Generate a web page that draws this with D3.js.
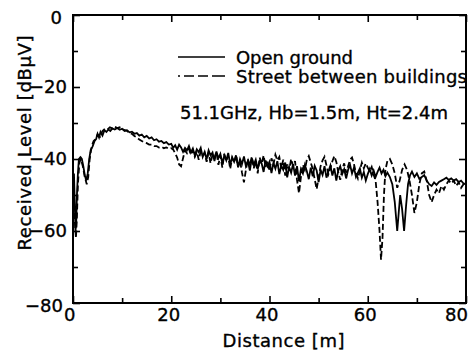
<!DOCTYPE html>
<html>
<head>
<meta charset="utf-8">
<script src="https://cdn.jsdelivr.net/npm/d3@7"></script>
<style>
  body { margin: 0; background: #fff; }
  text { font-family: "DejaVu Sans", "Liberation Sans", sans-serif; fill: #000; stroke: #000; stroke-width: 0.35px; }
</style>
</head>
<body>
<div id="chart"></div>
<script>
var margin = {top: 15, right: 7, bottom: 48, left: 73};
var width = 473 - margin.left - margin.right,
    height = 351 - margin.top - margin.bottom;

// distance [m] and received level [dBuV], open ground (solid)
const openDist = [0.2, 0.35, 0.5, 0.65, 0.8, 1.0, 1.2, 1.5, 1.8, 2.1, 2.4, 2.7, 3.0, 3.3, 3.6, 4.0, 4.4, 4.7, 5.0, 5.3, 5.6, 6.0, 6.4, 6.8, 7.2, 7.6, 8.0, 8.5, 9.0, 9.5,
  10, 10.5, 11, 11.5, 12, 12.5, 13, 13.5, 14, 14.5, 15, 15.5, 16, 16.5, 17, 17.5, 18, 18.5, 19, 19.5,
  20.0, 20.4, 20.8, 21.2, 21.6, 22.0, 22.4, 22.8, 23.2, 23.6, 24.0, 24.4, 24.8, 25.2, 25.6, 26.0, 26.4, 26.8, 27.2, 27.6,
  28.0, 28.4, 28.8, 29.2, 29.6, 30.0, 30.4, 30.8, 31.2, 31.6, 32.0, 32.4, 32.8, 33.2, 33.6, 34.0, 34.4, 34.8, 35.2, 35.6,
  36.0, 36.4, 36.8, 37.2, 37.6, 38.0, 38.4, 38.8, 39.2, 39.6, 40.0, 40.4, 40.8, 41.2, 41.6, 42.0, 42.4, 42.8, 43.2, 43.6,
  44.0, 44.4, 44.8, 45.2, 45.6, 46.0, 46.4, 46.8, 47.2, 47.6, 48.0, 48.4, 48.8, 49.2, 49.6, 50.0, 50.4, 50.8, 51.2, 51.6,
  52.0, 52.4, 52.8, 53.2, 53.6, 54.0, 54.4, 54.8, 55.2, 55.6, 56.0, 56.4, 56.8, 57.2, 57.6, 58.0, 58.4, 58.8, 59.2, 59.6,
  60.0, 60.4, 60.8, 61.2, 61.6, 62.0, 62.4, 62.8, 63.2, 63.6, 64.0, 64.5, 65, 65.5, 66, 66.3, 66.6, 67, 67.4, 67.8, 68.2, 68.6,
  69, 69.5, 70, 70.5, 71, 71.5, 72, 72.5, 73, 73.5, 74, 74.5, 75, 75.5, 76, 76.5, 77, 77.5, 78, 78.5, 79, 79.5, 80];
const openLevel = [-44, -52, -60, -58, -50, -44, -40, -39.5, -40, -42, -44.5, -46, -44, -40, -37.5, -36.5, -35, -34.5, -33, -34, -32.5, -33.5, -32, -32.5, -31.8, -32.2, -31.5, -31.8, -31.4, -31.9,
  -31.6, -32.2, -32, -32.6, -32.4, -33, -32.8, -33.5, -33.2, -34, -33.6, -34.3, -34, -34.8, -34.5, -35.2, -35, -35.6, -35.3, -36,
  -35.8, -36.9, -36.2, -37.4, -36.0, -36.8, -38.0, -36.9, -37.6, -36.4, -38.2, -37.1, -39.0, -37.3, -38.1, -36.9, -39.4, -38.0, -40.1, -37.6,
  -39.0, -38.2, -40.6, -37.9, -39.8, -38.6, -41.2, -39.0, -40.4, -38.3, -41.5, -39.6, -40.8, -39.1, -42.3, -40.0, -41.4, -39.3, -42.0, -40.5,
  -43.2, -39.8, -41.6, -40.2, -42.8, -40.6, -41.2, -43.6, -40.4, -42.0, -40.8, -43.9, -41.1, -42.7, -40.6, -44.2, -41.8, -43.0, -41.0, -45.1,
  -42.2, -43.8, -41.4, -44.6, -42.0, -46.2, -42.8, -44.0, -41.6, -43.4, -45.6, -42.4, -44.8, -41.9, -43.2, -46.4, -43.0, -44.4, -42.0, -45.2,
  -43.4, -41.8, -44.6, -42.6, -46.0, -43.2, -42.0, -44.2, -42.8, -45.4, -43.0, -41.6, -44.0, -42.4, -45.0, -43.8, -42.6, -45.2, -43.6, -46.0,
  -44.2, -42.8, -44.6, -43.2, -45.0, -43.6, -42.4, -44.0, -43.0, -44.8, -43.8, -45, -47, -52, -60, -55, -50, -54, -60, -53, -47, -44.5,
  -43.5, -45, -44, -45.5, -45, -44.5, -46, -47, -47.5, -46.5, -47.2, -46.4, -46, -45.6, -45.2, -45.8, -45.4, -46, -45.6, -46.4, -46, -46.8, -47];

// street between buildings (dashed)
const streetDist = [0.2, 0.4, 0.6, 0.8, 1.0, 1.3, 1.6, 2.0, 2.4, 2.8, 3.1, 3.4, 3.8, 4.2, 4.6, 5.0, 5.5, 6.0, 6.5, 7, 7.5, 8, 8.5, 9, 9.5,
  10, 10.5, 11, 11.5, 12, 12.5, 13, 13.5, 14, 14.5, 15, 15.5, 16, 16.5, 17, 17.5, 18, 18.5, 19, 19.5,
  20.0, 20.4, 20.8, 21.2, 21.6, 22.0, 22.4, 22.8, 23.2, 23.6, 24.0, 24.4, 24.8, 25.2, 25.6, 26.0, 26.4, 26.8, 27.2, 27.6,
  28.0, 28.4, 28.8, 29.2, 29.6, 30.0, 30.4, 30.8, 31.2, 31.6, 32.0, 32.4, 32.8, 33.2, 33.6, 34.0, 34.4, 34.8, 35.2, 35.6,
  36.0, 36.4, 36.8, 37.2, 37.6, 38.0, 38.4, 38.8, 39.2, 39.6, 40.0, 40.4, 40.8, 41.2, 41.6, 42.0, 42.4, 42.8, 43.2, 43.6,
  44.0, 44.4, 44.8, 45.2, 45.6, 46.0, 46.4, 46.8, 47.2, 47.6, 48.0, 48.4, 48.8, 49.2, 49.6, 50.0, 50.4, 50.8, 51.2, 51.6,
  52.0, 52.4, 52.8, 53.2, 53.6, 54.0, 54.4, 54.8, 55.2, 55.6, 56.0, 56.4, 56.8, 57.2, 57.6, 58.0, 58.4, 58.8, 59.2, 59.6,
  60.0, 60.4, 60.8, 61.2, 61.6, 62.0, 62.4, 62.7, 63, 63.3, 63.6, 64, 64.5, 65, 65.5, 66, 66.5, 67, 67.5, 68, 68.5, 69, 69.5,
  70, 70.5, 71, 71.5, 72, 72.5, 73, 73.5, 74, 74.5, 75, 75.5, 76, 76.5, 77, 77.5, 78, 78.5, 79, 79.5, 80];
const streetLevel = [-50, -58, -62, -56, -47, -41, -40, -42, -45, -47, -45, -40, -36.5, -35, -34.5, -33.2, -33.8, -32.2, -31.6, -31.8, -31.2, -31.5, -31, -31.4, -31.2,
  -31.6, -32, -32.2, -32.8, -33.0, -33.6, -34.0, -34.6, -35.0, -35.4, -35.6, -36.0, -36.0, -36.4, -36.4, -36.8, -36.6, -37.0, -36.8, -37.2,
  -37.0, -37.4, -38.4, -39.6, -41.5, -42.0, -39.8, -37.6, -38.4, -37.2, -38.8, -37.6, -39.4, -38.0, -40.2, -37.8, -39.0, -38.4, -40.8, -38.2,
  -41.2, -38.8, -39.6, -38.0, -41.6, -39.0, -42.4, -38.6, -40.4, -39.2, -42.8, -39.6, -41.0, -38.8, -42.2, -40.4, -43.8, -46.5, -43.0, -40.0,
  -41.8, -39.4, -42.6, -40.6, -44.0, -39.6, -41.4, -39.0, -42.2, -40.6, -43.4, -39.8, -41.6, -38.8, -40.4, -39.4, -42.6, -40.2, -44.6, -41.4,
  -43.2, -40.0, -42.0, -40.6, -45.8, -49.5, -45.0, -41.6, -43.0, -40.2, -39.2, -41.0, -42.8, -45.6, -48.4, -45.2, -42.0, -40.4, -39.4, -41.8,
  -44.2, -42.6, -40.6, -39.2, -40.8, -43.6, -45.8, -43.0, -41.2, -43.8, -42.0, -40.2, -39.6, -41.4, -44.0, -45.4, -43.2, -41.0, -42.6, -41.2,
  -42.4, -43.4, -42.2, -44.4, -46.0, -52, -60, -68, -62, -50, -43, -40.5, -40, -41.5, -44, -48, -46, -43, -41.5, -43, -46, -50, -55,
  -52, -47, -44, -43.5, -46, -50, -52, -50, -48.5, -49.5, -47.5, -48.5, -47, -46, -46.8, -46, -47.5, -46.5, -48, -47, -46.5];

const xMajor = [0, 20, 40, 60, 80];
const xMinor = [10, 30, 50, 70];
const yMajor = [0, -20, -40, -60, -80];
const yMinor = [-10, -30, -50, -70];
const seriesNames = ["Open ground", "Street between buildings"];
const noteText = "51.1GHz, Hb=1.5m, Ht=2.4m";

const svg = d3.select('#chart')
  .append('svg')
  .attr("width", width + margin.left + margin.right)
  .attr("height", height + margin.top + margin.bottom)
  .append("g")
  .attr("transform", "translate(" + margin.left + "," + margin.top + ")");

const x = d3.scaleLinear().domain([0, 80]).range([0, width]);
const y = d3.scaleLinear().domain([-80, 0]).range([height, 0]);

const fmt = d => d < 0 ? "\u2212" + Math.abs(d) : "" + d;

// ticks, all pointing inward, on all four sides
function tickAxis(axisFn, scale, vals, size, tr) {
  const g = svg.append("g")
    .attr("transform", tr)
    .call(axisFn(scale).tickValues(vals).tickSize(size).tickFormat(""));
  g.select(".domain").remove();
  g.selectAll("line").attr("stroke", "#000").attr("stroke-width", 1.6);
  return g;
}
tickAxis(d3.axisBottom, x, xMajor, -7, `translate(0,${height})`);
tickAxis(d3.axisBottom, x, xMinor, -5, `translate(0,${height})`);
tickAxis(d3.axisTop, x, xMajor, -7, "translate(0,0)");
tickAxis(d3.axisTop, x, xMinor, -5, "translate(0,0)");
tickAxis(d3.axisLeft, y, yMajor, -7, "translate(0,0)");
tickAxis(d3.axisLeft, y, yMinor, -5, "translate(0,0)");
tickAxis(d3.axisRight, y, yMajor, -7, `translate(${width},0)`);
tickAxis(d3.axisRight, y, yMinor, -5, `translate(${width},0)`);

// frame
svg.append("rect")
  .attr("width", width)
  .attr("height", height)
  .attr("fill", "none")
  .attr("stroke", "#000")
  .attr("stroke-width", 2);

// tick labels
const xLab = svg.append("g")
  .attr("transform", `translate(0,${height})`)
  .call(d3.axisBottom(x).tickValues(xMajor).tickSize(0).tickPadding(5).tickFormat(fmt));
xLab.select(".domain").remove();
xLab.selectAll("text")
  .attr("font-size", "18px")
  .attr("text-anchor", (d, i) => i === 0 ? "end" : "middle")
  .attr("dx", (d, i) => i === 0 ? 2 : i === xMajor.length - 1 ? -10 : -3);

const yLab = svg.append("g")
  .call(d3.axisLeft(y).tickValues(yMajor).tickSize(0).tickPadding(6).tickFormat(fmt));
yLab.select(".domain").remove();
yLab.selectAll("text")
  .attr("font-size", "18px")
  .attr("dx", d => d === 0 ? -5 : d === -80 ? -4 : 0)
  .attr("dy", d => d === -80 ? "0.46em" : d === 0 ? "0.45em" : "0.32em");

// axis titles
svg.append("text")
  .attr("x", width / 2 + 14)
  .attr("y", height + 44)
  .attr("text-anchor", "middle")
  .attr("font-size", "18px")
  .attr("textLength", 122)
  .attr("lengthAdjust", "spacing")
  .text("Distance [m]");

svg.append("text")
  .attr("transform", `translate(${-42},${128}) rotate(-90)`)
  .attr("text-anchor", "middle")
  .attr("font-size", "18px")
  .attr("textLength", 215)
  .attr("lengthAdjust", "spacing")
  .text("Received Level [dB\u03bcV]");

// data lines
const line = d3.line()
  .x(d => x(d[0]))
  .y(d => y(d[1]));

const openData = d3.zip(openDist, openLevel);
const streetData = d3.zip(streetDist, streetLevel);

svg.append("path")
  .datum(streetData)
  .attr("fill", "none")
  .attr("stroke", "#000")
  .attr("stroke-width", 1.8)
  .attr("stroke-dasharray", "6,3")
  .attr("d", line);

svg.append("path")
  .datum(openData)
  .attr("fill", "none")
  .attr("stroke", "#000")
  .attr("stroke-width", 1.8)
  .attr("d", line);

// legend
const legend = svg.append("g")
  .attr("transform", "translate(105,42)");

legend.selectAll("line")
  .data(seriesNames)
  .enter().append("line")
  .attr("x1", 0)
  .attr("x2", 47)
  .attr("y1", (_, i) => i * 19)
  .attr("y2", (_, i) => i * 19)
  .attr("stroke", "#000")
  .attr("stroke-width", 1.6)
  .attr("stroke-dasharray", (_, i) => i ? "2,4,10,4,10,4,13" : null);

legend.selectAll("text")
  .data(seriesNames)
  .enter().append("text")
  .attr("x", 58)
  .attr("y", (_, i) => i * 19 + 7)
  .attr("font-size", "18px")
  .attr("textLength", (_, i) => i ? 231 : 117)
  .attr("lengthAdjust", "spacing")
  .text(d => d);

svg.append("text")
  .attr("x", 107)
  .attr("y", 104)
  .attr("font-size", "18px")
  .attr("textLength", 268)
  .attr("lengthAdjust", "spacing")
  .text(noteText);
</script>
</body>
</html>
